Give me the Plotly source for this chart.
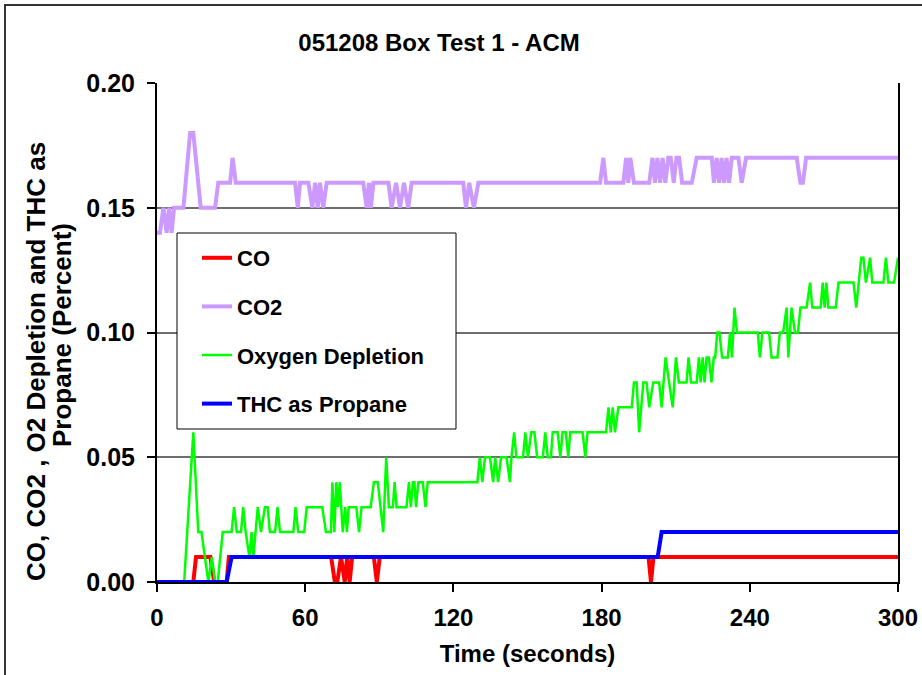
import plotly.graph_objects as go

# ---------------- data ----------------
co_t = [0, 14.7, 15.8, 21.6, 23.2, 28.2, 29.1, 70.5, 72, 73, 74.5, 76, 77, 78, 79,
        87.8, 89, 90.2, 199, 200, 201, 300]
co_v = [0, 0, 0.01, 0.01, 0, 0, 0.01, 0.01, 0, 0, 0.01, 0, 0.01, 0, 0.01,
        0.01, 0, 0.01, 0.01, 0, 0.01, 0.01]

co2_t = [0, 1.2, 2.6, 3.9, 4.9, 5.9, 6.9, 10.7, 13.4, 14.7, 17.7, 23.5, 24.8, 29.6,
         30.6, 31.9, 55.9, 57, 57.9, 61.3, 62.9, 64, 65.1, 66, 67.3, 68.7, 83.5,
         84.9, 85.8, 86.6, 87.6, 93.7, 95, 96.8, 98.4, 100, 101.7, 103.1, 124,
         125.1, 126.4, 128.3, 130.1, 179.4, 180.7, 181.8, 188.8, 189.9, 190.8,
         191.6, 193.1, 199.3, 200.6, 201.6, 202.6, 203.7, 204.7, 205.8, 207, 208,
         209.2, 210.3, 211.4, 212.6, 216.5, 218.5, 224.6, 225.5, 226.6, 227.6,
         228.6, 229.6, 230.6, 231.6, 232.7, 235.4, 236.7, 238.5, 259, 260.5,
         261.5, 262.8, 300]
co2_v = [0.14, 0.14, 0.15, 0.14, 0.15, 0.14, 0.15, 0.15, 0.18, 0.18, 0.15, 0.15,
         0.16, 0.16, 0.17, 0.16, 0.16, 0.15, 0.16, 0.16, 0.15, 0.16, 0.15, 0.16,
         0.15, 0.16, 0.16, 0.15, 0.16, 0.15, 0.16, 0.16, 0.15, 0.16, 0.15, 0.16,
         0.15, 0.16, 0.16, 0.15, 0.16, 0.15, 0.16, 0.16, 0.17, 0.16, 0.16, 0.17,
         0.16, 0.17, 0.16, 0.16, 0.17, 0.16, 0.17, 0.16, 0.17, 0.16, 0.17, 0.17,
         0.16, 0.17, 0.17, 0.16, 0.16, 0.17, 0.17, 0.16, 0.17, 0.16, 0.17, 0.16,
         0.17, 0.16, 0.17, 0.17, 0.16, 0.17, 0.17, 0.16, 0.16, 0.17, 0.17]

o2_t = [0, 11, 14.7, 16.7, 18, 19.4, 20.8, 22.2, 23.5, 24.6, 26.6, 30.2, 31.2, 32.3,
        34, 34.9, 35.9, 37.4, 38.3, 39, 40.8, 42.1, 43.7, 44.8, 45.7, 47.8, 48.8,
        49.8, 55.2, 56.1, 57.2, 59.6, 60.6, 66.9, 68.4, 70.4, 71, 71.8, 72.6, 73.3,
        74, 75.2, 76.2, 76.9, 77.6, 80.7, 81.8, 82.8, 86.5, 87.8, 89.4, 91.6, 92.8,
        93.9, 95.5, 96.2, 97, 101, 102, 102.8, 103.6, 104.2, 104.9, 105.8, 107.6,
        108.7, 109.6, 129.7, 130.7, 131.7, 132.8, 134.8, 136.1, 136.9, 138.1,
        139.3, 141.5, 142.9, 143.5, 144.6, 145.5, 148.2, 149.1, 150.2, 151.5,
        152.8, 153.9, 156.2, 157.2, 158.2, 159.5, 160.2, 162.2, 163.3, 164.2,
        165.5, 166.5, 167.3, 172.3, 173.4, 174.3, 181.8, 182.8, 183.7, 184.5,
        185.4, 186.8, 192.2, 193.1, 194.2, 195.2, 196.9, 198.2, 199.3, 200.9,
        203.3, 204.3, 205.9, 207.3, 208.8, 210.1, 211.3, 214.4, 215.2, 216.2,
        218.5, 219.4, 220.1, 220.9, 221.7, 222.5, 223.4, 224.5, 225.4, 226,
        226.8, 227.7, 228.8, 231.1, 232, 232.8, 233.8, 234.8, 243.2, 244.1,
        245.1, 247.8, 248.8, 251.2, 252.2, 253.5, 254.9, 255.6, 256.9, 258.3,
        259.5, 260.5, 263, 264.4, 265.3, 268.7, 269.5, 270.3, 271, 271.8, 274.8,
        275.9, 282, 283.1, 284, 285.1, 286, 287, 288.7, 289.6, 294.1, 295.1,
        296.1, 298.4, 300]
o2_v = [0, 0, 0.06, 0.02, 0.02, 0.01, 0, 0.01, 0, 0, 0.02, 0.02, 0.03, 0.02,
        0.02, 0.03, 0.02, 0.01, 0.02, 0.01, 0.03, 0.02, 0.03, 0.03, 0.02, 0.02, 0.03,
        0.02, 0.02, 0.03, 0.02, 0.02, 0.03, 0.03, 0.02, 0.02, 0.04, 0.02, 0.04, 0.03,
        0.04, 0.02, 0.03, 0.02, 0.03, 0.03, 0.02, 0.03, 0.03, 0.04, 0.04, 0.02, 0.05,
        0.03, 0.03, 0.04, 0.03, 0.03, 0.04, 0.03, 0.04, 0.04, 0.03, 0.04, 0.04,
        0.03, 0.04, 0.04, 0.05, 0.04, 0.05, 0.05, 0.04, 0.05, 0.04,
        0.05, 0.05, 0.04, 0.05, 0.06, 0.05, 0.05, 0.06, 0.05, 0.06,
        0.06, 0.05, 0.05, 0.06, 0.05, 0.05, 0.06, 0.06, 0.05, 0.06,
        0.06, 0.05, 0.06, 0.06, 0.05, 0.06, 0.06, 0.07, 0.06, 0.07,
        0.06, 0.07, 0.07, 0.08, 0.08, 0.06, 0.08, 0.08, 0.07, 0.08,
        0.08, 0.07, 0.09, 0.08, 0.07, 0.09, 0.08, 0.08, 0.09, 0.08,
        0.08, 0.09, 0.08, 0.09, 0.08, 0.09, 0.09, 0.08, 0.09, 0.09,
        0.10, 0.10, 0.09, 0.09, 0.10, 0.09, 0.11, 0.10, 0.10, 0.09,
        0.10, 0.10, 0.09, 0.09, 0.10, 0.10, 0.11, 0.09, 0.11, 0.10,
        0.10, 0.11, 0.11, 0.12, 0.11, 0.11, 0.12, 0.11, 0.12, 0.11, 0.11,
        0.12, 0.12, 0.11, 0.12, 0.13, 0.13, 0.12, 0.13, 0.12, 0.12, 0.13,
        0.12, 0.12, 0.13]

thc_t = [0, 28.2, 30.2, 202.7, 204.3, 300]
thc_v = [0, 0, 0.01, 0.01, 0.02, 0.02]

x_ticks = [0, 60, 120, 180, 240, 300]
y_ticks = [0.00, 0.05, 0.10, 0.15, 0.20]

title_text = "051208 Box Test 1 - ACM"
x_title = "Time (seconds)"
y_title_lines = ["CO, CO2 , O2 Depletion and THC as", "Propane (Percent)"]

FONT = "Liberation Sans, Arial, sans-serif"

fig = go.Figure()
series = [
    ("CO", co_t, co_v, "#FF0000", 4),
    ("CO2", co2_t, co2_v, "#CC99FF", 4),
    ("Oxygen Depletion", o2_t, o2_v, "#00FF00", 2.5),
    ("THC as Propane", thc_t, thc_v, "#0000FF", 4),
]
for name, t, v, c, w in series:
    fig.add_trace(go.Scatter(x=t, y=v, mode="lines", name=name, legendgroup=name,
                             line=dict(color=c, width=w), hoverinfo="skip"))

W, H = 922, 675
L, R, T, B = 157, 24, 83, 93
pw, ph = W - L - R, H - T - B

def px(x):
    return (x - L) / pw

def py(y):
    return (H - B - y) / ph

annotations = []
for xc, yc, line in zip([36, 62], [362, 335], y_title_lines):
    annotations.append(dict(text="<b>" + line + "</b>", xref="paper", yref="paper",
                            x=px(xc), y=py(yc), xanchor="center",
                            yanchor="middle", textangle=-90, showarrow=False,
                            font=dict(size=26, family=FONT, color="black")))

fig.update_layout(
    width=W, height=H,
    margin=dict(l=L, r=R, t=T, b=B),
    paper_bgcolor="white", plot_bgcolor="white",
    font=dict(family=FONT, color="black", size=22),
    title=dict(text="<b>" + title_text + "</b>", x=439 / W, xref="container",
               xanchor="center", y=1 - 43 / H, yref="container", yanchor="middle",
               font=dict(size=24, family=FONT)),
    showlegend=True,
    legend=dict(x=px(197), y=py(237), xanchor="left", yanchor="top",
                bgcolor="rgba(0,0,0,0)", borderwidth=0,
                font=dict(size=22, family=FONT, weight="bold"),
                tracegroupgap=17, traceorder="grouped"),
    annotations=annotations,
    shapes=[
        dict(type="rect", xref="paper", yref="paper", x0=px(5), x1=px(940),
             y0=py(700), y1=py(5), line=dict(color="#333333", width=2),
             fillcolor="rgba(0,0,0,0)", layer="below"),
        dict(type="rect", xref="paper", yref="paper", x0=px(177), x1=px(456),
             y0=py(429), y1=py(233), line=dict(color="black", width=1),
             fillcolor="white", layer="above"),
    ],
)
fig.update_xaxes(range=[0, 300], tickvals=x_ticks, ticks="outside", ticklen=8,
                 tickwidth=1.5, tickcolor="black", showline=True, linecolor="black",
                 linewidth=2, showgrid=False, zeroline=False, automargin=False,
                 ticklabelstandoff=5,
                 tickfont=dict(size=24, family=FONT, weight="bold"),
                 title=dict(text="<b>" + x_title + "</b>", standoff=15,
                            font=dict(size=24, family=FONT)))
fig.update_yaxes(range=[0, 0.2], tickvals=y_ticks, tickformat=".2f", ticks="outside",
                 ticklen=8, tickwidth=1.5, tickcolor="black", showline=True,
                 linecolor="black", linewidth=2, mirror=True, showgrid=True,
                 gridcolor="#6e6e6e", gridwidth=1.5, zeroline=False, automargin=False,
                 ticklabelstandoff=7,
                 tickfont=dict(size=25, family=FONT, weight="bold"))

fig.write_html("out.html")
